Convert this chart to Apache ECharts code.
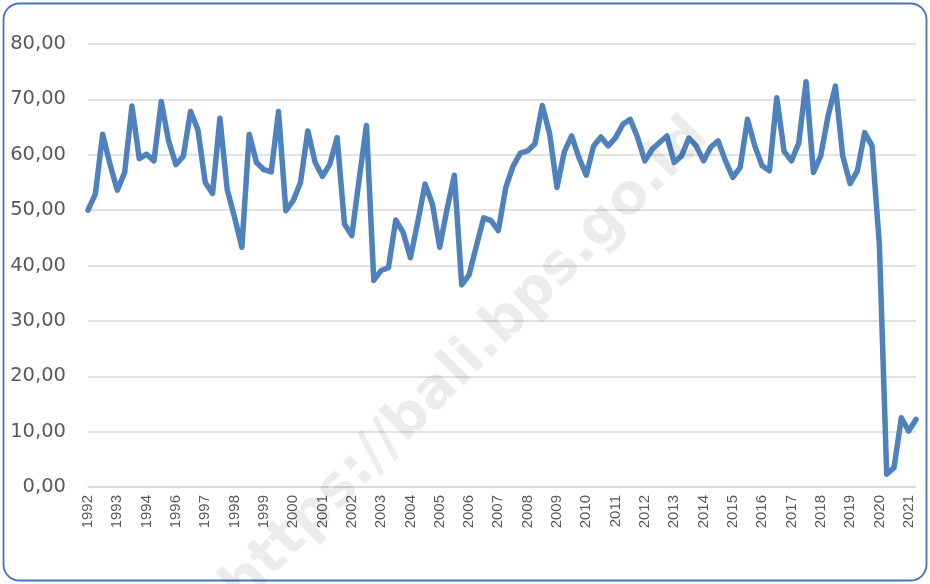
<!DOCTYPE html>
<html>
<head>
<meta charset="utf-8">
<script src="https://cdn.jsdelivr.net/npm/echarts@6/dist/echarts.min.js"></script>
<style>
  html, body { margin: 0; padding: 0; background: #fff; }
  #chart { width: 930px; height: 584px; }
</style>
</head>
<body>
<div id="chart"></div>
<script>
  // x-axis labels, one for every 4th point (as in the source, 1995 is missing)
  const yearLabels = ['1992', '1993', '1994', '1996', '1997', '1998', '1999', '2000', '2001', '2002',
    '2003', '2004', '2005', '2006', '2007', '2008', '2009', '2010', '2011', '2012',
    '2013', '2014', '2015', '2016', '2017', '2018', '2019', '2020', '2021']

  // values, one per period
  const values = [
    50.0, 52.9, 63.7, 58.3, 53.6, 56.8, 68.8, 59.3, 60.1, 58.9,
    69.6, 62.5, 58.2, 59.7, 67.8, 64.5, 55.0, 53.0, 66.6, 53.7,
    48.7, 43.3, 63.7, 58.6, 57.3, 56.9, 67.8, 49.9, 51.7, 55.0,
    64.3, 58.6, 56.1, 58.3, 63.1, 47.5, 45.4, 55.5, 65.3, 37.3,
    39.1, 39.6, 48.2, 46.0, 41.4, 47.8, 54.7, 51.1, 43.3, 50.2,
    56.3, 36.5, 38.3, 43.5, 48.6, 48.1, 46.3, 54.0, 57.9, 60.3,
    60.7, 62.0, 68.9, 63.8, 54.1, 60.5, 63.4, 59.5, 56.3, 61.6,
    63.2, 61.6, 63.1, 65.5, 66.4, 63.1, 58.9, 61.0, 62.2, 63.4,
    58.6, 59.8, 63.0, 61.6, 58.9, 61.4, 62.5, 58.9, 55.9, 57.7,
    66.4, 61.6, 58.0, 57.1, 70.3, 60.6, 58.9, 62.1, 73.2, 56.8,
    59.8, 67.0, 72.4, 59.8, 54.8, 57.1, 64.0, 61.6, 43.8, 2.3,
    3.5, 12.5, 10.1, 12.2
  ]

  const periods = values.map((v, i) => 'p' + i)

  const chart = echarts.init(document.getElementById('chart'))
  chart.setOption({
    animation: false,
    grid: {
      left: 88,
      right: 14,
      top: 44,
      bottom: 97
    },
    graphic: [
      {
        type: 'rect',
        shape: { x: 3.5, y: 3.5, width: 923, height: 577, r: 16 },
        style: { fill: 'none', stroke: '#4472C4', lineWidth: 1.8 },
        z: 100
      },
      {
        type: 'text',
        x: 466,
        y: 362,
        rotation: Math.PI / 4,
        style: {
          text: 'https://bali.bps.go.id',
          fill: 'rgba(0,0,0,0.075)',
          font: 'bold 56px "DejaVu Sans"',
          align: 'center',
          verticalAlign: 'middle'
        },
        z: 100
      }
    ],
    xAxis: {
      type: 'category',
      data: periods,
      boundaryGap: false,
      axisLine: { show: true, lineStyle: { color: '#d9d9d9', width: 1.5 } },
      axisTick: { show: false },
      axisLabel: {
        interval: 3,
        rotate: 90,
        margin: 8,
        color: '#595959',
        fontSize: 15,
        fontFamily: 'Liberation Sans',
        formatter: (value, index) => yearLabels[index / 4] || ''
      },
      splitLine: { show: false }
    },
    yAxis: {
      type: 'value',
      min: 0,
      max: 80,
      interval: 10,
      axisLine: { show: false },
      axisTick: { show: false },
      axisLabel: {
        margin: 22,
        color: '#595959',
        fontSize: 19.5,
        fontFamily: 'DejaVu Sans',
        formatter: v => v.toFixed(2).replace('.', ',')
      },
      splitLine: { lineStyle: { color: '#d9d9d9', width: 1.5 } }
    },
    series: [
      {
        type: 'line',
        data: values,
        showSymbol: false,
        symbol: 'none',
        lineStyle: { color: '#4F81BD', width: 5.5, join: 'round', cap: 'round' }
      }
    ]
  })
</script>
</body>
</html>
